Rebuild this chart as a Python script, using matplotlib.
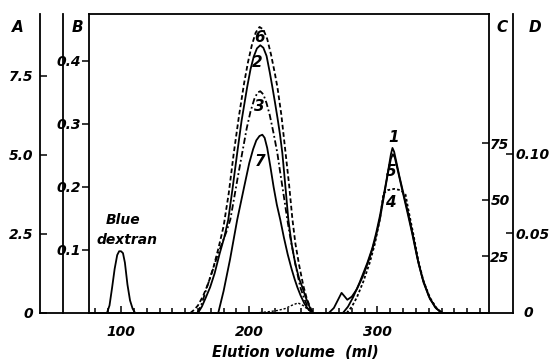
import matplotlib
matplotlib.use("Agg")
import matplotlib.pyplot as plt
from matplotlib.lines import Line2D

plt.rcParams["font.family"] = "DejaVu Sans"
plt.rcParams["font.weight"] = "bold"
plt.rcParams["font.style"] = "italic"

dex_x = [89, 91, 93, 95, 97, 98.5, 100, 101.5, 103, 105, 107, 109, 111]
dex_y = [0, 0.012, 0.04, 0.07, 0.092, 0.098, 0.098, 0.095, 0.08, 0.045, 0.02, 0.007, 0]

c6_x = [154, 157, 160, 164, 168, 172, 176, 180, 184, 188, 192, 196, 199, 202, 205, 208, 211, 214, 217,
        220, 222, 225, 228, 231, 233.6, 236, 239, 242.2, 245, 248, 250]
c6_y = [0, 0.005, 0.012, 0.027, 0.047, 0.072, 0.103, 0.138, 0.19, 0.255, 0.313, 0.365, 0.398, 0.425,
        0.445, 0.454, 0.45, 0.435, 0.41, 0.38, 0.358, 0.315, 0.26, 0.205, 0.15, 0.11, 0.075, 0.043,
        0.022, 0.007, 0]

c2_x = [160, 163, 166, 169.5, 173, 177, 180.5, 183.6, 187, 190.6, 194, 198.4, 201, 203.5, 206, 208.6,
        211, 213.5, 216, 218, 220, 222, 224, 225.8, 228, 230.5, 233, 236, 239, 241.4, 244, 247, 249]
c2_y = [0, 0.01, 0.024, 0.041, 0.063, 0.095, 0.12, 0.148, 0.198, 0.254, 0.305, 0.359, 0.387, 0.407,
        0.42, 0.425, 0.421, 0.408, 0.382, 0.359, 0.335, 0.31, 0.283, 0.254, 0.205, 0.148, 0.11, 0.077,
        0.054, 0.041, 0.025, 0.01, 0]

c3_x = [159.5, 163, 167, 171, 175, 179, 182, 185.2, 188, 191, 194.5, 198, 201, 204, 206.5, 208.6, 211,
        213.5, 216, 219, 221.9, 224, 227, 229.7, 232, 235, 237.5, 239.8, 243, 246, 249]
c3_y = [0, 0.015, 0.041, 0.065, 0.09, 0.112, 0.128, 0.148, 0.18, 0.215, 0.254, 0.293, 0.32, 0.34, 0.35,
        0.352, 0.347, 0.333, 0.314, 0.285, 0.254, 0.225, 0.185, 0.148, 0.12, 0.088, 0.063, 0.041, 0.022,
        0.008, 0]

c7_x = [175.8, 180, 185, 190.6, 196, 200, 203, 205.5, 208, 210.2, 212, 214, 216.5, 219, 221.5, 224.2,
        227, 230, 233, 235.5, 237.5, 240, 243, 246, 249.5]
c7_y = [0, 0.035, 0.085, 0.148, 0.20, 0.238, 0.26, 0.274, 0.281, 0.283, 0.278, 0.262, 0.232, 0.2, 0.172,
        0.148, 0.12, 0.093, 0.07, 0.053, 0.041, 0.028, 0.015, 0.006, 0]

bump_x = [205, 215, 222, 228, 233, 238, 242, 246, 250]
bump_y = [0, 0.002, 0.004, 0.007, 0.012, 0.016, 0.012, 0.005, 0]

c1_x = [273, 277, 281, 286, 292, 296, 299, 302, 305, 308, 310.5, 311.7, 313, 314.5, 317, 320, 324, 328,
        332, 336, 341, 346, 351]
c1_y = [0, 0.01, 0.025, 0.048, 0.079, 0.103, 0.127, 0.155, 0.188, 0.222, 0.252, 0.262, 0.256, 0.242,
        0.218, 0.192, 0.158, 0.12, 0.079, 0.048, 0.022, 0.007, 0]

c5_x = [262, 266, 269, 272, 274.5, 276.5, 280, 284, 289, 294, 298, 302, 305, 308, 310.5, 312, 313.5,
        316, 319, 323, 327, 331, 335, 340, 345, 350]
c5_y = [0, 0.008, 0.02, 0.032, 0.026, 0.021, 0.026, 0.038, 0.06, 0.088, 0.115, 0.15, 0.185, 0.22, 0.245,
        0.252, 0.247, 0.225, 0.198, 0.163, 0.127, 0.088, 0.056, 0.027, 0.009, 0]

c4_x = [276, 280, 284, 289, 294, 298, 302, 304.7, 308, 313, 318, 321.9, 324, 328, 332, 336, 341, 346, 350]
c4_y = [0, 0.01, 0.025, 0.05, 0.08, 0.11, 0.15, 0.19, 0.195, 0.197, 0.195, 0.188, 0.165, 0.125, 0.082,
        0.05, 0.024, 0.008, 0]

a_ticks = [0, 2.5, 5.0, 7.5]
a_labels = ["0", "2.5", "5.0", "7.5"]
b_ticks = [0.1, 0.2, 0.3, 0.4]
b_labels = ["0.1", "0.2", "0.3", "0.4"]
c_ticks = [25, 50, 75]
c_labels = ["25", "50", "75"]
d_ticks = [0.05, 0.10]
d_labels = ["0.05", "0.10"]

fig = plt.figure(figsize=(5.52, 3.59), dpi=100)
W, H = 552, 359
ax = fig.add_axes([89 / W, 1 - 313 / H, 400 / W, 299 / H])
lw = 1.3

ax.plot(dex_x, dex_y, "k-", lw=lw)
ax.plot(c6_x, c6_y, color="k", lw=lw, ls=(0, (2.6, 1.5)))
ax.plot(c2_x, c2_y, "k-", lw=lw)
ax.plot(c3_x, c3_y, color="k", lw=lw, ls=(0, (3.5, 1.5, 1, 1.5)))
ax.plot(c7_x, c7_y, "k-", lw=lw)
ax.plot(bump_x, bump_y, color="k", lw=1.0, ls=(0, (1.6, 1.3)))
ax.plot(c1_x, c1_y, "k-", lw=lw)
ax.plot(c5_x, c5_y, "k-", lw=lw)
ax.plot(c4_x, c4_y, color="k", lw=lw, ls=(0, (1.5, 1.2)))

ax.set_xlim(75, 387)
ax.set_ylim(0, 0.4746)
ax.set_xticks([100, 200, 300])
ax.set_xticks(range(80, 390, 10), minor=True)
ax.tick_params(axis="x", which="major", direction="in", length=5, width=1.1, pad=9, labelsize=10)
ax.tick_params(axis="x", which="minor", direction="in", length=3.5, width=1.1)
ax.set_yticks(b_ticks, labels=b_labels)
ax.tick_params(axis="y", direction="out", length=5, width=1.1, pad=0.5)
for t in ax.get_yticklabels():
    t.set_family(["Liberation Sans Narrow", "DejaVu Sans"])
    t.set_fontsize(10)
for s in ax.spines.values():
    s.set_linewidth(1.3)

# curve numbers
fs = 11
ax.text(207.8, 0.438, "6", ha="center", va="center", fontsize=fs)
ax.text(206.3, 0.398, "2", ha="center", va="center", fontsize=fs)
ax.text(207.8, 0.327, "3", ha="center", va="center", fontsize=fs)
ax.text(208.6, 0.240, "7", ha="center", va="center", fontsize=fs)
ax.text(312.5, 0.279, "1", ha="center", va="center", fontsize=fs)
ax.text(310.9, 0.224, "5", ha="center", va="center", fontsize=fs)
ax.text(310.2, 0.175, "4", ha="center", va="center", fontsize=fs)
ax.text(101.6, 0.148, "Blue", ha="center", va="center", fontsize=10)
ax.text(104.7, 0.116, "dextran", ha="center", va="center", fontsize=10)

# A scale, far left
axA = ax.twinx()
axA.set_ylim(0, 9.45)
axA.yaxis.tick_left()
for s in axA.spines.values():
    s.set_visible(False)
axA.spines["left"].set_visible(True)
axA.spines["left"].set_linewidth(1.3)
axA.spines["left"].set_position(("axes", (40 - 89) / 400))
axA.set_yticks(a_ticks, labels=a_labels)
axA.tick_params(axis="y", direction="in", length=5, width=1.1, pad=5, labelsize=10)

# B scale line
axB = ax.twinx()
axB.set_yticks([])
for s in axB.spines.values():
    s.set_visible(False)
axB.spines["left"].set_visible(True)
axB.spines["left"].set_linewidth(1.3)
axB.spines["left"].set_position(("axes", (63 - 89) / 400))

# C scale on box right side
axC = ax.twinx()
axC.set_ylim(0, 132)
for s in axC.spines.values():
    s.set_visible(False)
axC.set_yticks(c_ticks, labels=c_labels)
axC.tick_params(axis="y", direction="in", length=5, width=1.1, pad=1, labelsize=10)

# D scale, far right
axD = ax.twinx()
axD.set_ylim(0, 0.188)
for s in axD.spines.values():
    s.set_visible(False)
axD.spines["right"].set_visible(True)
axD.spines["right"].set_linewidth(1.3)
axD.spines["right"].set_position(("axes", (513 - 89) / 400))
axD.set_yticks(d_ticks, labels=d_labels)
axD.tick_params(axis="y", direction="in", length=5, width=1.1, pad=2, labelsize=10)

# baseline running under all scales
fig.add_artist(Line2D([40 / W, 513 / W], [46 / H, 46 / H], color="k", lw=1.3,
                      transform=fig.transFigure))

fig.text(528 / W, 1 - 313 / H, "0", ha="center", va="center", fontsize=10)
for lab, px in [("A", 18), ("B", 77), ("C", 502), ("D", 535)]:
    fig.text(px / W, 1 - 28 / H, lab, ha="center", va="center", fontsize=11)
fig.text(295 / W, 1 - 352 / H, "Elution volume  (ml)", ha="center", va="center", fontsize=10.5)

fig.savefig("out.png", dpi=100)
